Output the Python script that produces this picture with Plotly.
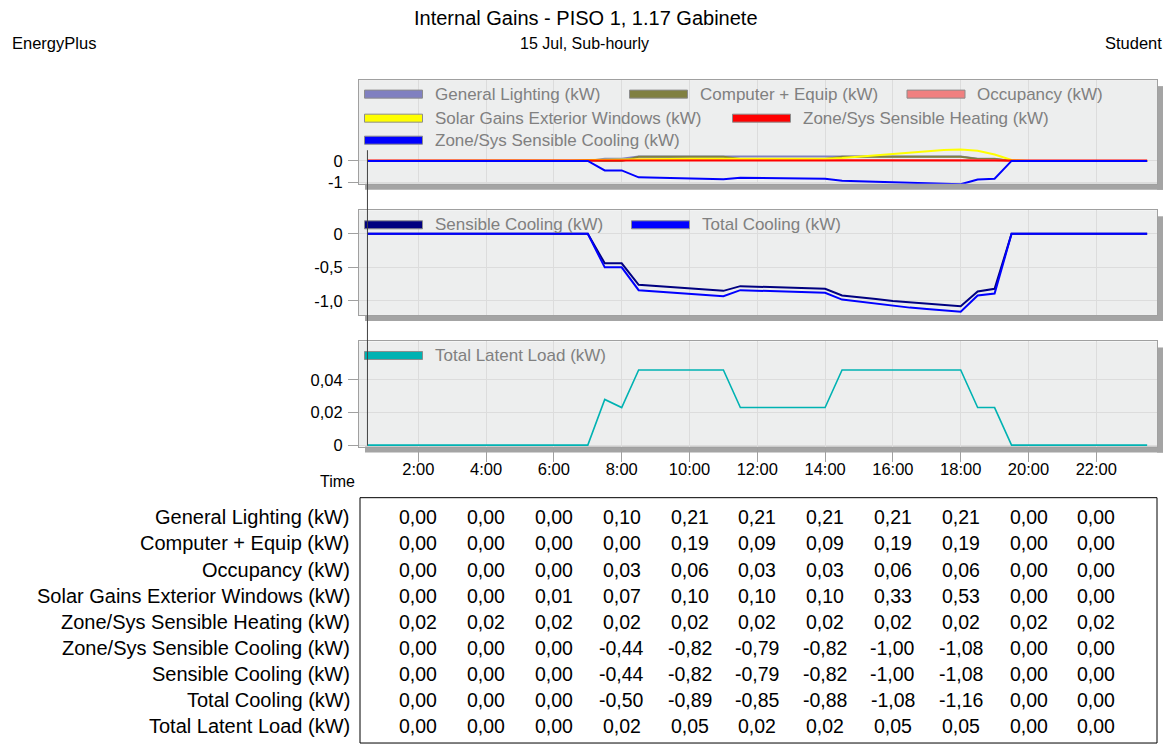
import plotly.graph_objects as go

# ---------------------------------------------------------------- data
# half-hourly timestamps (hours of 15 Jul)
hours = [0.5, 1.0, 1.5, 2.0, 2.5, 3.0, 3.5, 4.0, 4.5, 5.0, 5.5, 6.0,
         6.5, 7.0, 7.5, 8.0, 8.5, 9.0, 9.5, 10.0, 10.5, 11.0, 11.5, 12.0,
         12.5, 13.0, 13.5, 14.0, 14.5, 15.0, 15.5, 16.0, 16.5, 17.0, 17.5,
         18.0, 18.5, 19.0, 19.5, 20.0, 20.5, 21.0, 21.5, 22.0, 22.5, 23.0, 23.5]

general_lighting = [0, 0, 0, 0, 0, 0, 0, 0, 0, 0, 0, 0, 0, 0,
                    0.10, 0.10,
                    0.21, 0.21, 0.21, 0.21, 0.21, 0.21, 0.21, 0.21, 0.21, 0.21,
                    0.21, 0.21, 0.21, 0.21, 0.21, 0.21, 0.21, 0.21, 0.21, 0.21,
                    0.10, 0.10,
                    0, 0, 0, 0, 0, 0, 0, 0, 0]

computer_equip = [0, 0, 0, 0, 0, 0, 0, 0, 0, 0, 0, 0, 0, 0,
                  0.00, 0.00,
                  0.19, 0.19, 0.19, 0.19, 0.19, 0.19,
                  0.09, 0.09, 0.09, 0.09, 0.09, 0.09,
                  0.19, 0.19, 0.19, 0.19, 0.19, 0.19, 0.19, 0.19,
                  0.09, 0.09,
                  0, 0, 0, 0, 0, 0, 0, 0, 0]

occupancy = [0, 0, 0, 0, 0, 0, 0, 0, 0, 0, 0, 0, 0, 0,
             0.035, 0.03,
             0.06, 0.06, 0.06, 0.06, 0.06, 0.06,
             0.03, 0.03, 0.03, 0.03, 0.03, 0.03,
             0.06, 0.06, 0.06, 0.06, 0.06, 0.06, 0.06, 0.06,
             0.03, 0.03,
             0, 0, 0, 0, 0, 0, 0, 0, 0]

solar_gains = [0, 0, 0, 0, 0, 0, 0, 0, 0,
               0.002, 0.005, 0.01, 0.02, 0.04, 0.055, 0.07, 0.08, 0.09, 0.095,
               0.10, 0.10, 0.10, 0.10, 0.10, 0.10, 0.10, 0.10, 0.10,
               0.14, 0.20, 0.26, 0.33, 0.40, 0.46, 0.51, 0.53, 0.47, 0.30, 0.04,
               0, 0, 0, 0, 0, 0, 0, 0]

sensible_heating = [0.02] * 47

zone_sys_sensible_cooling = [0, 0, 0, 0, 0, 0, 0, 0, 0, 0, 0, 0, 0, 0,
                             -0.44, -0.44, -0.76, -0.78, -0.80, -0.82, -0.84, -0.85,
                             -0.78, -0.79, -0.80, -0.80, -0.81, -0.82,
                             -0.92, -0.94, -0.97, -1.00, -1.02, -1.04, -1.07, -1.08,
                             -0.86, -0.82,
                             0, 0, 0, 0, 0, 0, 0, 0, 0]

sensible_cooling = [0, 0, 0, 0, 0, 0, 0, 0, 0, 0, 0, 0, 0, 0,
                    -0.44, -0.44, -0.76, -0.78, -0.80, -0.82, -0.84, -0.85,
                    -0.78, -0.79, -0.80, -0.80, -0.81, -0.82,
                    -0.92, -0.94, -0.97, -1.00, -1.02, -1.04, -1.07, -1.08,
                    -0.86, -0.82,
                    0, 0, 0, 0, 0, 0, 0, 0, 0]

total_cooling = [0, 0, 0, 0, 0, 0, 0, 0, 0, 0, 0, 0, 0, 0,
                 -0.50, -0.50, -0.84, -0.86, -0.88, -0.89, -0.91, -0.93,
                 -0.84, -0.85, -0.86, -0.87, -0.87, -0.88,
                 -0.98, -1.01, -1.04, -1.08, -1.10, -1.12, -1.14, -1.16,
                 -0.92, -0.89,
                 0, 0, 0, 0, 0, 0, 0, 0, 0]

total_latent = [0, 0, 0, 0, 0, 0, 0, 0, 0, 0, 0, 0, 0, 0,
                0.028, 0.023,
                0.046, 0.046, 0.046, 0.046, 0.046, 0.046,
                0.023, 0.023, 0.023, 0.023, 0.023, 0.023,
                0.046, 0.046, 0.046, 0.046, 0.046, 0.046, 0.046, 0.046,
                0.023, 0.023,
                0, 0, 0, 0, 0, 0, 0, 0, 0]

tick_hours = [2, 4, 6, 8, 10, 12, 14, 16, 18, 20, 22]
tick_labels = ["2:00", "4:00", "6:00", "8:00", "10:00", "12:00",
               "14:00", "16:00", "18:00", "20:00", "22:00"]

y1_ticks, y1_labels = [0, -1], ["0", "-1"]
y2_ticks, y2_labels = [0, -0.5, -1.0], ["0", "-0,5", "-1,0"]
y3_ticks, y3_labels = [0, 0.02, 0.04], ["0", "0,02", "0,04"]

# (name, values, colour, panel)
series = [
    ("General Lighting (kW)", general_lighting, "#8080C0", 1),
    ("Computer + Equip (kW)", computer_equip, "#808040", 1),
    ("Occupancy (kW)", occupancy, "#F08080", 1),
    ("Solar Gains Exterior Windows (kW)", solar_gains, "#FFFF00", 1),
    ("Zone/Sys Sensible Heating (kW)", sensible_heating, "#FF0000", 1),
    ("Zone/Sys Sensible Cooling (kW)", zone_sys_sensible_cooling, "#0000FF", 1),
    ("Sensible Cooling (kW)", sensible_cooling, "#000080", 2),
    ("Total Cooling (kW)", total_cooling, "#0000FF", 2),
    ("Total Latent Load (kW)", total_latent, "#00B2B2", 3),
]

# ---------------------------------------------------------------- geometry
W, H = 1172, 752
Y_STRETCH = 1 / 0.988          # vertical pixel pitch of the page
FONT = "Arial, 'Liberation Sans', sans-serif"


def fx(p):
    return p / W


def fy(p):
    return 1 - p * Y_STRETCH / H


BOX_L, BOX_R = 359, 1157
HOUR0_PX, PX_PER_H = 350.5, 33.9
x_range = [(BOX_L - HOUR0_PX) / PX_PER_H, (BOX_R - HOUR0_PX) / PX_PER_H]

# panel boxes (top, bottom) in px, zero-line px and px per unit
panels = {
    1: dict(top=80, bottom=183.5, zero=160.7, k=21.6),
    2: dict(top=210, bottom=314.5, zero=233.5, k=67.0),
    3: dict(top=341, bottom=446, zero=444.5, k=1630.0),
}
for p in panels.values():
    p["range"] = [-(p["bottom"] - p["zero"]) / p["k"], (p["zero"] - p["top"]) / p["k"]]

fig = go.Figure()

for name, vals, color, panel in series:
    suffix = "" if panel == 1 else str(panel)
    fig.add_trace(go.Scatter(
        x=hours, y=vals, name=name, mode="lines",
        line=dict(color=color, width=1.6 if panel == 3 else 2),
        xaxis="x" + suffix, yaxis="y" + suffix, showlegend=False,
        hoverinfo="skip"))

GRID = "#DCDCDC"
EDGE = "#A0A0A0"
tick_sets = {1: (y1_ticks, y1_labels), 2: (y2_ticks, y2_labels), 3: (y3_ticks, y3_labels)}
layout_axes = {}
for i, p in panels.items():
    suffix = "" if i == 1 else str(i)
    tv, tt = tick_sets[i]
    layout_axes["xaxis" + suffix] = dict(
        domain=[fx(BOX_L), fx(BOX_R)], range=x_range, anchor="y" + suffix,
        tickmode="array", tickvals=tick_hours, ticktext=tick_labels,
        showticklabels=(i == 3), ticks="outside" if i == 3 else "",
        ticklen=14, tickcolor=EDGE, ticklabelstandoff=-6,
        tickfont=dict(family=FONT, size=16.5, color="#000000"),
        showgrid=True, gridcolor=GRID, gridwidth=1, zeroline=False,
        showline=True, mirror=True, linecolor=EDGE, linewidth=1)
    layout_axes["yaxis" + suffix] = dict(
        domain=[fy(p["bottom"]), fy(p["top"])], range=p["range"], anchor="x" + suffix,
        tickmode="array", tickvals=tv, ticktext=tt, ticks="outside", ticklen=10,
        tickcolor=EDGE, ticklabelstandoff=2,
        tickfont=dict(family=FONT, size=16.5, color="#000000"),
        showgrid=True, gridcolor=GRID, gridwidth=1, zeroline=False,
        showline=True, mirror=True, linecolor=EDGE, linewidth=1)

shapes = []
annotations = []

# drop shadows to the right and below each panel
SH = 6
for p in panels.values():
    shapes.append(dict(type="rect", xref="paper", yref="paper", layer="below",
                       x0=fx(BOX_R), x1=fx(BOX_R + SH), y0=fy(p["bottom"] + SH), y1=fy(p["top"] + SH),
                       fillcolor="#A4A4A4", line=dict(width=0)))
    shapes.append(dict(type="rect", xref="paper", yref="paper", layer="below",
                       x0=fx(BOX_L + SH), x1=fx(BOX_R + SH), y0=fy(p["bottom"] + SH), y1=fy(p["bottom"]),
                       fillcolor="#A4A4A4", line=dict(width=0)))

# in-panel legends: (series index, swatch left px, row centre px)
legend_items = [
    (0, 364.5, 94), (1, 629.5, 94), (2, 907, 94),
    (3, 364.5, 118), (4, 732.5, 118),
    (5, 364.5, 140),
    (6, 364.5, 224.5), (7, 631.5, 224.5),
    (8, 364.5, 355),
]
for idx, left, cy in legend_items:
    name, _, color, _ = series[idx]
    shapes.append(dict(type="rect", xref="paper", yref="paper", layer="above",
                       x0=fx(left), x1=fx(left + 58), y0=fy(cy + 4), y1=fy(cy - 4),
                       fillcolor=color, line=dict(color="#8C8C8C", width=1)))
    annotations.append(dict(xref="paper", yref="paper", x=fx(left + 68), y=fy(cy),
                            xanchor="left", yanchor="middle", showarrow=False, text=name,
                            font=dict(family=FONT, size=17, color="#808080")))

# cursor line at the first timestamp
shapes.append(dict(type="line", xref="x3", yref="paper", layer="above",
                   x0=hours[0], x1=hours[0], y0=fy(150), y1=fy(445),
                   line=dict(color="#404040", width=1)))

# header texts
annotations += [
    dict(xref="paper", yref="paper", x=0.5, y=fy(18), xanchor="center", yanchor="middle",
         text="Internal Gains - PISO 1, 1.17 Gabinete", showarrow=False,
         font=dict(family=FONT, size=20, color="#000000")),
    dict(xref="paper", yref="paper", x=fx(10), y=fy(43), xanchor="left", yanchor="middle",
         text="EnergyPlus", showarrow=False, font=dict(family=FONT, size=16.5, color="#000000")),
    dict(xref="paper", yref="paper", x=fx(584), y=fy(43), xanchor="center", yanchor="middle",
         text="15 Jul, Sub-hourly", showarrow=False, font=dict(family=FONT, size=16, color="#000000")),
    dict(xref="paper", yref="paper", x=fx(1164), y=fy(43), xanchor="right", yanchor="middle",
         text="Student", showarrow=False, font=dict(family=FONT, size=16.5, color="#000000")),
    dict(xref="paper", yref="paper", x=fx(337.5), y=fy(481), xanchor="center", yanchor="middle",
         text="Time", showarrow=False, font=dict(family=FONT, size=16, color="#000000")),
]

# value table under the chart, sampled at the tick times
shapes.append(dict(type="rect", xref="paper", yref="paper", layer="above",
                   x0=fx(360), x1=fx(1157), y0=fy(742), y1=fy(497),
                   line=dict(color="#000000", width=1), fillcolor="rgba(0,0,0,0)"))
row_y = [516.5, 542.5, 569, 595, 621, 647, 673.5, 699.5, 725.5]
for r, (name, vals, _, _) in enumerate(series):
    annotations.append(dict(xref="paper", yref="paper", x=fx(352), y=fy(row_y[r]),
                            xanchor="right", yanchor="middle", showarrow=False, text=name,
                            font=dict(family=FONT, size=20, color="#000000")))
    for h in tick_hours:
        v = vals[hours.index(float(h))]
        txt = f"{v:.2f}".replace(".", ",")
        annotations.append(dict(xref="x3", yref="paper", x=h, y=fy(row_y[r]),
                                xanchor="center", yanchor="middle", showarrow=False, text=txt,
                                font=dict(family=FONT, size=19.5, color="#000000")))

fig.update_layout(
    width=W, height=H, autosize=False,
    margin=dict(l=0, r=0, t=0, b=0),
    paper_bgcolor="#FFFFFF", plot_bgcolor="#EDEEEE",
    showlegend=False, shapes=shapes, annotations=annotations,
    **layout_axes)

fig.write_html("out.html", config={"displayModeBar": False})
